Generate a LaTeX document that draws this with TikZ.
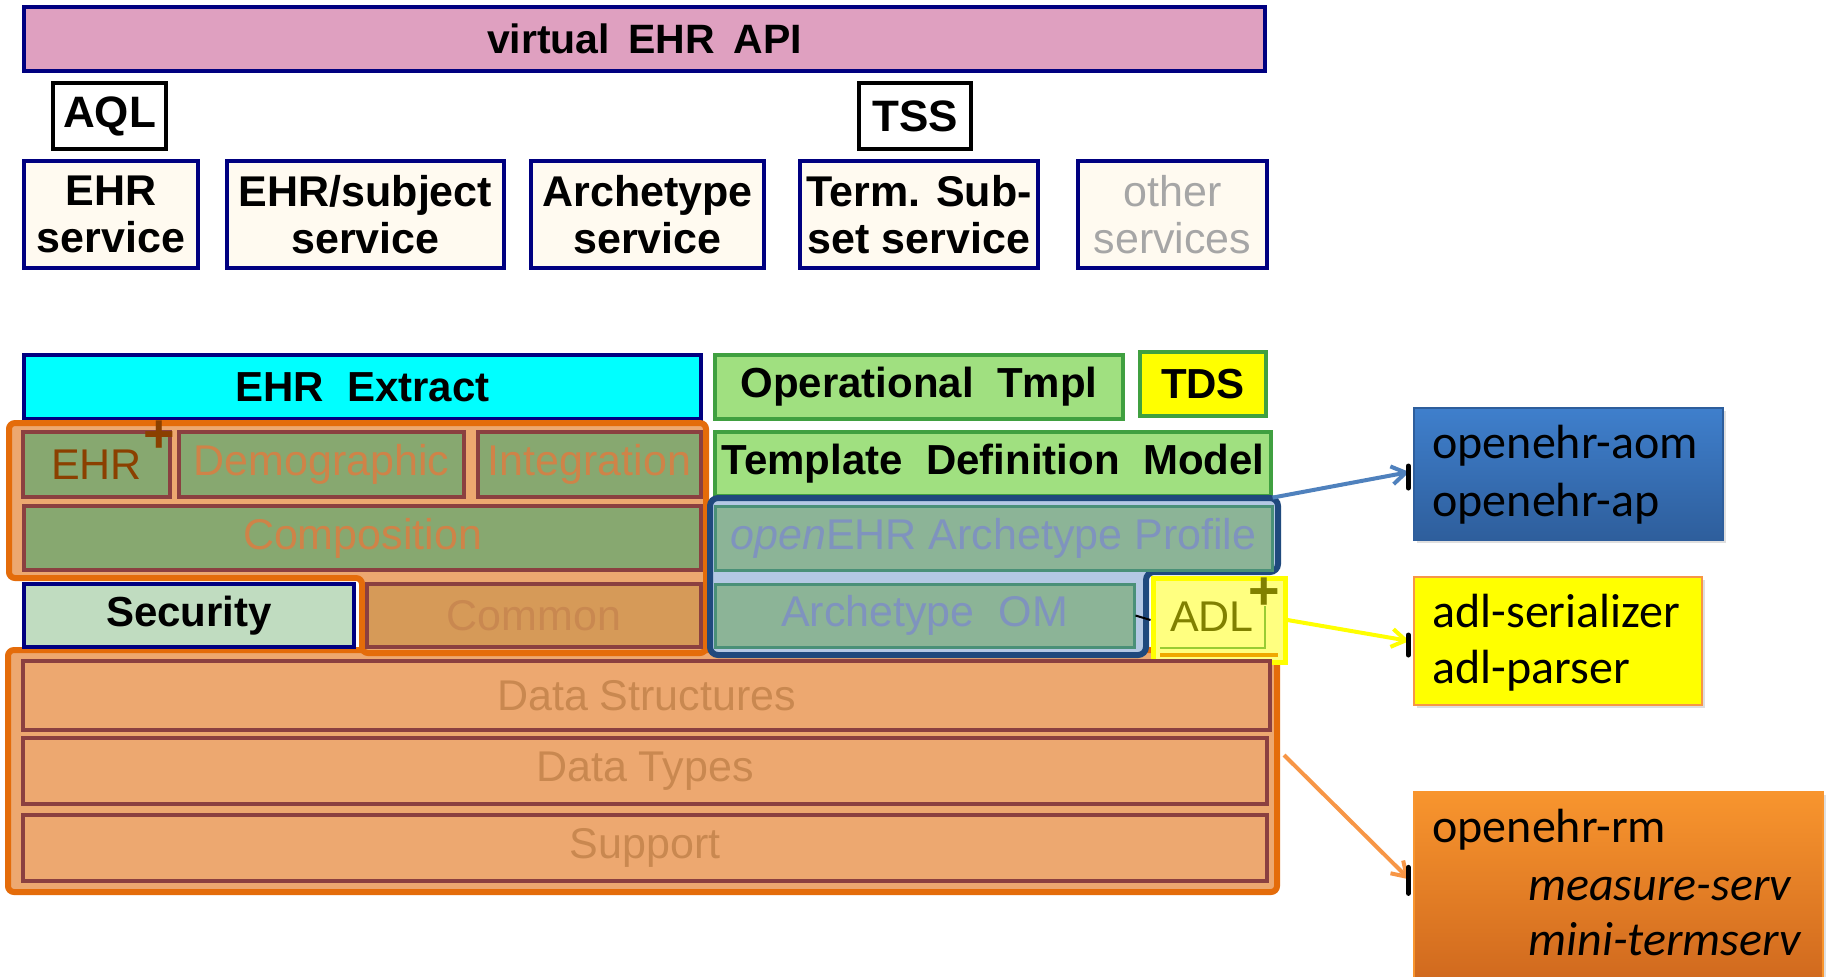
\documentclass[tikz,border=0pt]{standalone}
\usepackage{fontspec}
\setmainfont{Liberation Sans}
\newfontfamily\calibrifont{Carlito}
\usetikzlibrary{arrows.meta,shadows,calc}
\definecolor{navyb}{HTML}{000080}
\definecolor{apipink}{HTML}{DFA0C0}
\definecolor{cream}{HTML}{FFFAF0}
\definecolor{tgreen}{HTML}{A0E080}
\definecolor{tgreenb}{HTML}{40A040}
\definecolor{orfill}{HTML}{EDA870}
\definecolor{orline}{HTML}{E46C0A}
\definecolor{brnb}{HTML}{8B4040}
\definecolor{olivef}{HTML}{87A870}
\definecolor{ortxt}{HTML}{CF8348}
\definecolor{ehrtxt}{HTML}{8B4000}
\definecolor{secf}{HTML}{C0DCC0}
\definecolor{comf}{HTML}{D69A58}
\definecolor{comt}{HTML}{C98850}
\definecolor{archf}{HTML}{8CB497}
\definecolor{archb}{HTML}{4A9078}
\definecolor{archt}{HTML}{7F93BE}
\definecolor{blueln}{HTML}{1F497D}
\definecolor{bluefill}{HTML}{B4C8E4}
\definecolor{adlf}{HTML}{FFFF80}
\definecolor{adlt}{HTML}{808000}
\definecolor{aomtop}{HTML}{3F7FCC}
\definecolor{aombot}{HTML}{2E5E9C}
\definecolor{arrblue}{HTML}{4F81BD}
\definecolor{arror}{HTML}{F79646}
\definecolor{rmtop}{HTML}{F8952E}
\definecolor{rmbot}{HTML}{D0691E}
\definecolor{othtxt}{HTML}{A6A6A6}
\definecolor{adlgreen}{HTML}{99CC33}
\definecolor{adlor}{HTML}{F0A800}
\definecolor{pureyellow}{RGB}{255,255,0}
\definecolor{purecyan}{RGB}{0,255,255}
\tikzset{
  boxbase/.style={inner sep=0pt, line width=1.6pt},
  boldt/.style={font=\fontsize{21}{21.5}\selectfont\bfseries},
  regt/.style={font=\fontsize{21.5}{22}\selectfont},
  apibox/.style={boxbase, draw=navyb, fill=apipink, font=\fontsize{20.5}{21}\selectfont\bfseries},
  qbox/.style={boxbase, draw=black, fill=white, font=\fontsize{22}{22}\selectfont\bfseries},
  svcbox/.style={boxbase, draw=navyb, fill=cream, align=center, font=\fontsize{21.5}{23.5}\selectfont\bfseries},
  tmplbox/.style={boxbase, draw=tgreenb, fill=tgreen, boldt},
  pkgbox/.style={boxbase, line width=2pt, draw=brnb, fill=olivef, text=ortxt, regt},
  lowbox/.style={boxbase, line width=2pt, draw=brnb, fill=orfill, text=comt, regt},
  amodel/.style={boxbase, line width=1.5pt, draw=archb, fill=archf, text=archt, regt},
  libbox/.style={inner sep=0pt, line width=0.6pt, drop shadow={opacity=0.25, shadow xshift=1.5pt, shadow yshift=-1.5pt}},
  libtext/.style={anchor=base west, inner sep=0pt, font=\calibrifont\fontsize{24}{29}\selectfont},
  plusmark/.style={inner sep=0pt, font=\fontsize{27}{27}\selectfont\bfseries},
  conn/.style={line width=2pt, -{Straight Barb[length=7pt, width=9pt, line width=2pt]}},
  blob/.style={line width=2.5pt, black, line cap=round}
}
% \lbox{style}{name}{x1}{y1}{x2}{y2}{text}
\newcommand\lbox[7]{%
  \node[#1, rectangle, minimum width={(#5-#3)*0.5pt}, minimum height={(#6-#4)*0.5pt}]
    (#2) at ({(#3+#5)/2},{(#4+#6)/2}) {#7};}
\begin{document}
\begin{tikzpicture}[x=0.5pt, y=-0.5pt]
\useasboundingbox[fill=white] (0,0) rectangle (1828,976);

% --- upper part: API and services
\lbox{apibox}{api}{24}{7}{1265}{71}{virtual\hspace{0.45em}EHR\hspace{0.45em}API}
\lbox{qbox}{aql}{53}{83}{166}{149}{AQL}
\lbox{qbox}{tss}{859}{83}{971}{149}{TSS}
\lbox{svcbox}{ehrsvc}{24}{161}{198}{268}{EHR\\service}
\lbox{svcbox}{subjsvc}{227}{161}{504}{268}{EHR/subject\\service}
\lbox{svcbox}{archsvc}{531}{161}{764}{268}{Archetype\\service}
\lbox{svcbox}{termsvc}{800}{161}{1038}{268}{Term. Sub-\\set service}
\lbox{svcbox, text=othtxt, font=\fontsize{21.5}{23.5}\selectfont}{othsvc}{1078}{161}{1267}{268}{other\\services}

% --- second tier
\lbox{boxbase, draw=navyb, fill=purecyan, boldt}{extract}{24}{355}{701}{419}{EHR\ \ Extract}
\lbox{tmplbox}{optmpl}{715}{355}{1123}{419}{Operational\ \ Tmpl}
\lbox{tmplbox, fill=pureyellow}{tds}{1140}{352}{1266}{416}{TDS}
\lbox{tmplbox}{tdm}{715}{432}{1271}{496}{Template\ \ Definition\ \ Model}

% --- reference model outlines
\lbox{boxbase, line width=3pt, draw=orline, fill=orfill, rounded corners=3pt}{rmouter}{8}{650}{1277}{892}{}
\draw[line width=3pt, draw=orline, fill=orfill, rounded corners=3pt]
  (9,423) -- (706,423) -- (706,653) -- (362,653) -- (362,578) -- (9,578) -- cycle;

\lbox{pkgbox, text=ehrtxt}{ehr}{23}{432}{170}{497}{EHR}
\node[plusmark, text=ehrtxt] (ehrplus) at (159,437) {+};
\lbox{pkgbox}{demo}{179}{432}{464}{497}{Demographic}
\lbox{pkgbox}{integ}{478}{432}{701}{497}{Integration}
\lbox{pkgbox}{compo}{24}{506}{701}{570}{Composition}
\lbox{boxbase, draw=navyb, fill=secf, boldt}{security}{24}{584}{354}{647}{Security}
\lbox{pkgbox, fill=comf, text=comt}{common}{367}{584}{701}{647}{Common}

% --- archetype outline
\draw[line width=3pt, draw=blueln, fill=bluefill, rounded corners=4pt]
  (710,498) -- (1278,498) -- (1278,572) -- (1146,572) -- (1146,655) -- (710,655) -- cycle;
\lbox{amodel}{aprofile}{715}{506}{1272}{570}{\textit{open}EHR Archetype Profile}
\lbox{amodel}{aom}{715}{584}{1134}{647}{Archetype\ \ OM}

\lbox{boxbase, line width=2.5pt, draw=pureyellow, fill=adlf}{adl}{1153}{578}{1285}{662}{}
\draw[line width=1.2pt, adlgreen] (1265,606) -- (1265,648) -- (1160,648);
\draw[line width=2pt, adlor] (1160,655) -- (1278,655);
\node[regt, text=adlt, inner sep=0pt] (adltext) at (1212,617) {ADL};
\node[plusmark, text=adlt] (adlplus) at (1264,594) {+};
\draw[line width=1pt, black] (aom.east) -- (adl.west);

% --- lower RM packages
\lbox{lowbox}{datastruct}{23}{661}{1270}{730}{Data Structures}
\lbox{lowbox}{datatypes}{23}{738}{1267}{804}{Data Types}
\lbox{lowbox}{support}{23}{815}{1267}{881}{Support}

% --- library boxes
\lbox{libbox, draw=aombot, top color=aomtop, bottom color=aombot}{aombox}{1414}{408}{1723}{540}{}
\node[libtext] (aomt1) at (1432,458) {openehr-aom};
\node[libtext] (aomt2) at (1432,516) {openehr-ap};

\lbox{libbox, draw=arror, fill=pureyellow}{adlbox}{1414}{577}{1702}{705}{}
\node[libtext] (adlt1) at (1432,627) {adl-serializer};
\node[libtext] (adlt2) at (1432,683) {adl-parser};

\lbox{libbox, draw=rmtop, top color=rmtop, bottom color=rmbot}{rmbox}{1414}{792}{1823}{982}{}
\node[libtext] (rmt1) at (1432,842) {openehr-rm};
\node[libtext, font=\calibrifont\itshape\fontsize{24}{29}\selectfont] (rmt2) at (1528,900) {measure-serv};
\node[libtext, font=\calibrifont\itshape\fontsize{24}{29}\selectfont] (rmt3) at (1528,955) {mini-termserv};

% --- connectors
\coordinate (aomtip) at ($(aombox.west)+(-4,-2)$);
\coordinate (adltip) at ($(adlbox.west)+(-4,0)$);
\coordinate (rmtip) at ($(rmbox.north west)!0.46!(rmbox.south west)+(-4,0)$);
\draw[conn, arrblue] (tdm.south east) -- (aomtip);
\draw[conn, pureyellow] (adl.east) -- (adltip);
\draw[conn, arror] ($(rmouter.east)+(4,-16)$) -- (rmtip);
\draw[blob] ($(aombox.west)+(-5,-8)$) -- ($(aombox.west)+(-5,14)$);
\draw[blob] ($(adlbox.west)+(-5,-6)$) -- ($(adlbox.west)+(-5,14)$);
\draw[blob] ($(rmtip)+(-1,-12)$) -- ($(rmtip)+(-1,14)$);
\end{tikzpicture}
\end{document}
